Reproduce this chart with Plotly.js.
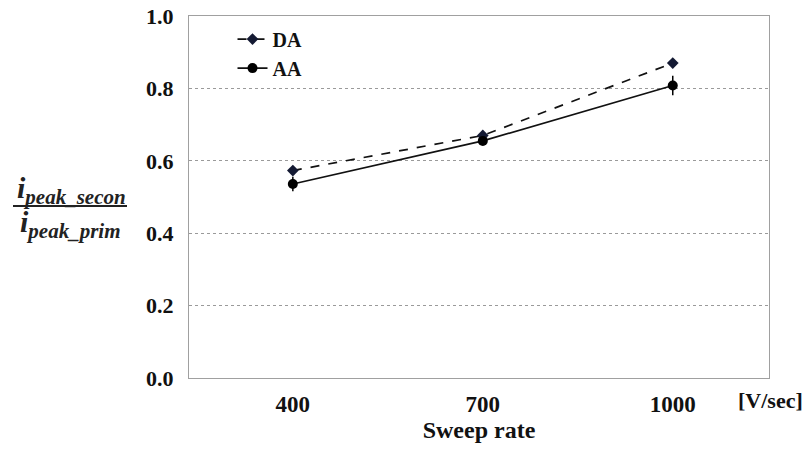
<!DOCTYPE html>
<html><head><meta charset="utf-8">
<script src="https://cdn.plot.ly/plotly-3.0.1.min.js"></script>
<style>html,body{margin:0;padding:0;background:#fff}#c{width:806px;height:452px}</style>
</head><body><div id="c"></div>
<script>
var sweepRates = [400, 700, 1000];
var tickLabels = ['400', '700', '1000'];
var daValues = [0.573, 0.670, 0.870];
var aaValues = [0.536, 0.655, 0.808];
var aaErrors = [0.020, 0.010, 0.027];
var yTicks = [0, 0.2, 0.4, 0.6, 0.8, 1.0];
var yTickLabels = ['0.0', '0.2', '0.4', '0.6', '0.8', '1.0'];

var serif = '"Liberation Serif", "Times New Roman", Times, serif';
var bold = function (s) { return '<b>' + s + '</b>'; };
var traces = [
  {x: sweepRates, y: daValues, name: bold('DA'), mode: 'lines+markers', cliponaxis: false,
   line: {color: '#111', width: 1.7, dash: 'dash'},
   marker: {symbol: 'diamond', size: 9, color: '#141a33'}},
  {x: sweepRates, y: aaValues, name: bold('AA'), mode: 'lines+markers', cliponaxis: false,
   line: {color: '#111', width: 1.7},
   marker: {symbol: 'circle', size: 10, color: '#000'},
   error_y: {type: 'data', array: aaErrors, visible: true, color: '#000', thickness: 1.5, width: 0}}
];
var L = 189, R = 769, T = 16, B = 378;
var px = function (x) { return (x - L) / (R - L); };
var py = function (y) { return (B - y) / (B - T); };
var layout = {
  width: 806, height: 452,
  margin: {l: L, r: 806 - R, t: T, b: 452 - B},
  paper_bgcolor: '#fff', plot_bgcolor: '#fff',
  font: {family: serif},
  showlegend: true,
  legend: {x: 0.075, y: 0.99, xanchor: 'left', yanchor: 'top', bgcolor: 'rgba(0,0,0,0)',
           font: {family: serif, size: 20, color: '#111'}, tracegroupgap: 0},
  xaxis: {range: [236, 1152], tickvals: sweepRates, ticktext: tickLabels.map(bold),
          showgrid: false, zeroline: false, showline: true, mirror: true, linecolor: '#a0a0a0', linewidth: 1,
          ticks: '', ticklabelstandoff: 5,
          tickfont: {family: serif, size: 23, color: '#111'},
          title: {text: '<b>Sweep rate</b>', font: {family: serif, size: 24, color: '#111'}, standoff: 4}},
  yaxis: {range: [0, 1.0], tickvals: yTicks, ticktext: yTickLabels.map(bold),
          showgrid: true, gridcolor: '#9a9a9a', gridwidth: 1, griddash: 'dot',
          zeroline: false, showline: true, mirror: true, linecolor: '#a0a0a0', linewidth: 1,
          ticks: '', ticklabelstandoff: 10,
          tickfont: {family: serif, size: 22, color: '#111'}},
  annotations: [
    {xref: 'paper', yref: 'paper', x: px(771), y: py(400), xanchor: 'center', yanchor: 'middle', showarrow: false,
     text: '<b>[V/sec]</b>', font: {family: serif, size: 22, color: '#111'}},
    {xref: 'paper', yref: 'paper', x: px(71), y: py(190), xanchor: 'center', yanchor: 'middle', showarrow: false,
     text: '<b><i>i</i></b><sub><b><i>peak_secon</i></b></sub>', font: {family: serif, size: 30, color: '#222'}},
    {xref: 'paper', yref: 'paper', x: px(70), y: py(224), xanchor: 'center', yanchor: 'middle', showarrow: false,
     text: '<b><i>i</i></b><sub><b><i>peak_prim</i></b></sub>', font: {family: serif, size: 30, color: '#222'}}
  ],
  shapes: [
    {type: 'line', xref: 'paper', yref: 'paper', x0: px(13), x1: px(127),
     y0: py(206), y1: py(206), line: {color: '#222', width: 2}}
  ]
};
Plotly.newPlot('c', traces, layout, {displayModeBar: false, staticPlot: true});
</script></body></html>
